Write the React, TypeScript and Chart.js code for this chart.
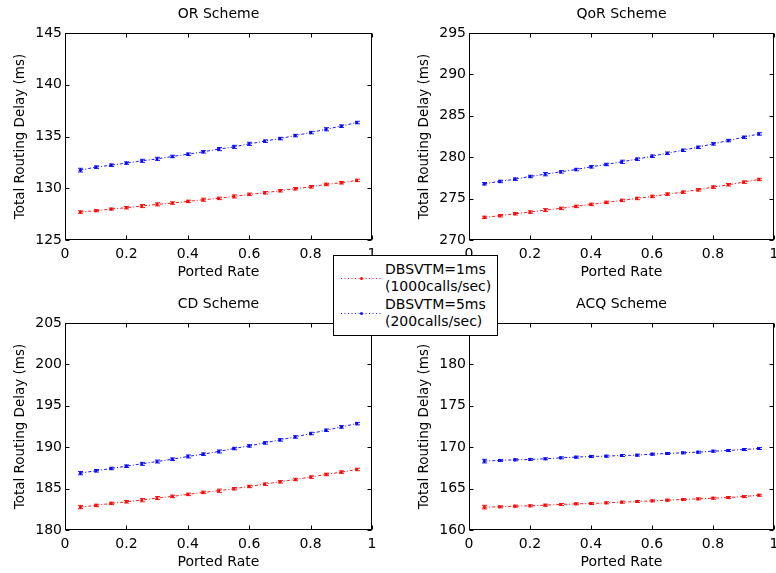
import React, { useEffect, useRef } from "react";
import { Chart, registerables } from "chart.js";

Chart.register(...registerables);

// ---------- data ----------
const portedRate = [0.05, 0.1, 0.15, 0.2, 0.25, 0.3, 0.35, 0.4, 0.45, 0.5, 0.55, 0.6, 0.65, 0.7, 0.75, 0.8, 0.85, 0.9, 0.95];
const xTicks = [0, 0.2, 0.4, 0.6, 0.8, 1];

const legendLabels = [["DBSVTM=1ms", "(1000calls/sec)"], ["DBSVTM=5ms", "(200calls/sec)"]];

const orDbs1 = [127.7, 127.83, 127.99, 128.12, 128.28, 128.44, 128.57, 128.73, 128.89, 129.02, 129.21, 129.41, 129.56, 129.76, 129.95, 130.14, 130.37, 130.53, 130.76];
const orDbs5 = [131.75, 132.04, 132.23, 132.43, 132.65, 132.84, 133.07, 133.29, 133.52, 133.78, 134.0, 134.29, 134.55, 134.8, 135.09, 135.38, 135.7, 136.0, 136.35];
const orErr1 = [0.12, 0.1, 0.1, 0.12, 0.15, 0.15, 0.12, 0.12, 0.15, 0.12, 0.15, 0.12, 0.12, 0.12, 0.12, 0.12, 0.12, 0.12, 0.12];
const orErr5 = [0.18, 0.12, 0.12, 0.12, 0.15, 0.15, 0.12, 0.12, 0.12, 0.15, 0.15, 0.15, 0.12, 0.12, 0.12, 0.12, 0.15, 0.12, 0.12];

const qorDbs1 = [272.73, 272.93, 273.17, 273.37, 273.61, 273.82, 274.06, 274.3, 274.54, 274.78, 275.02, 275.26, 275.54, 275.78, 276.06, 276.39, 276.67, 276.99, 277.31];
const qorDbs5 = [276.79, 277.07, 277.35, 277.67, 277.95, 278.23, 278.51, 278.84, 279.12, 279.44, 279.76, 280.12, 280.48, 280.84, 281.2, 281.61, 282.01, 282.41, 282.81];
const qorErr1 = [0.15, 0.15, 0.15, 0.15, 0.18, 0.15, 0.15, 0.15, 0.15, 0.15, 0.15, 0.15, 0.15, 0.15, 0.15, 0.15, 0.15, 0.15, 0.15];
const qorErr5 = [0.15, 0.15, 0.15, 0.15, 0.2, 0.15, 0.15, 0.15, 0.15, 0.2, 0.15, 0.15, 0.15, 0.15, 0.15, 0.15, 0.15, 0.15, 0.15];

const cdDbs1 = [182.77, 182.97, 183.21, 183.41, 183.61, 183.86, 184.06, 184.3, 184.54, 184.74, 184.98, 185.26, 185.54, 185.82, 186.1, 186.39, 186.71, 186.99, 187.31];
const cdDbs5 = [186.87, 187.15, 187.43, 187.71, 187.99, 188.27, 188.55, 188.88, 189.16, 189.48, 189.84, 190.16, 190.52, 190.88, 191.24, 191.65, 192.05, 192.45, 192.85];
const cdErr1 = [0.2, 0.15, 0.15, 0.15, 0.2, 0.18, 0.15, 0.15, 0.15, 0.2, 0.15, 0.15, 0.15, 0.15, 0.15, 0.15, 0.15, 0.15, 0.15];
const cdErr5 = [0.2, 0.15, 0.15, 0.15, 0.18, 0.18, 0.15, 0.18, 0.15, 0.18, 0.15, 0.15, 0.15, 0.15, 0.15, 0.15, 0.15, 0.15, 0.15];

const acqDbs1 = [162.76, 162.8, 162.88, 162.92, 163.0, 163.08, 163.16, 163.2, 163.28, 163.36, 163.44, 163.52, 163.6, 163.68, 163.76, 163.84, 163.92, 164.04, 164.2];
const acqDbs5 = [168.32, 168.4, 168.48, 168.52, 168.6, 168.72, 168.8, 168.88, 168.92, 169.0, 169.04, 169.16, 169.24, 169.32, 169.4, 169.52, 169.6, 169.72, 169.84];
const acqErr1 = [0.22, 0.12, 0.12, 0.12, 0.12, 0.12, 0.12, 0.12, 0.12, 0.12, 0.12, 0.12, 0.12, 0.12, 0.12, 0.12, 0.12, 0.12, 0.12];
const acqErr5 = [0.22, 0.12, 0.12, 0.12, 0.12, 0.12, 0.12, 0.12, 0.12, 0.12, 0.12, 0.12, 0.12, 0.12, 0.12, 0.12, 0.12, 0.12, 0.12];

// ---------- panels ----------
type Geo = { left: number; top: number; width: number; height: number; yAxisW: number; padRight: number; padTop: number; xAxisH: number; yLabelX: number };
type Panel = { title: string; yMin: number; yMax: number; s1: number[]; s5: number[]; e1: number[]; e5: number[]; geo: Geo };

const FONT = "'DejaVu Sans', sans-serif";
const RED = "rgba(255,0,0,0.9)";
const BLUE = "rgba(0,0,255,0.9)";

const panels: Panel[] = [
  { title: "OR Scheme", yMin: 125, yMax: 145, s1: orDbs1, s5: orDbs5, e1: orErr1, e5: orErr5,
    geo: { left: 0, top: 0, width: 388, height: 286, yAxisW: 65, padRight: 16, padTop: 33, xAxisH: 46, yLabelX: 20 } },
  { title: "QoR Scheme", yMin: 270, yMax: 295, s1: qorDbs1, s5: qorDbs5, e1: qorErr1, e5: qorErr5,
    geo: { left: 388, top: 0, width: 400, height: 286, yAxisW: 81, padRight: 14, padTop: 33, xAxisH: 46, yLabelX: 36 } },
  { title: "CD Scheme", yMin: 180, yMax: 205, s1: cdDbs1, s5: cdDbs5, e1: cdErr1, e5: cdErr5,
    geo: { left: 0, top: 286, width: 388, height: 287, yAxisW: 65, padRight: 16, padTop: 37, xAxisH: 43, yLabelX: 20 } },
  { title: "ACQ Scheme", yMin: 160, yMax: 185, s1: acqDbs1, s5: acqDbs5, e1: acqErr1, e5: acqErr5,
    geo: { left: 388, top: 286, width: 400, height: 287, yAxisW: 81, padRight: 14, padTop: 37, xAxisH: 43, yLabelX: 36 } },
];

const framePlugin = {
  id: "matlabFrame",
  afterDatasetsDraw(chart: any) {
    const ctx = chart.ctx;
    const xs = chart.scales.x;
    const ys = chart.scales.y;
    chart.data.datasets.forEach((ds: any) => {
      const errs: number[] = ds.errorBars || [];
      ctx.save();
      ctx.strokeStyle = ds.borderColor;
      ctx.lineWidth = 1;
      ds.data.forEach((p: any, i: number) => {
        const e = errs[i] || 0;
        const px = Math.round(xs.getPixelForValue(p.x)) + 0.5;
        const y1 = ys.getPixelForValue(p.y - e);
        const y2 = ys.getPixelForValue(p.y + e);
        ctx.beginPath();
        ctx.moveTo(px, y1);
        ctx.lineTo(px, y2);
        ctx.moveTo(px - 2.5, y1);
        ctx.lineTo(px + 2.5, y1);
        ctx.moveTo(px - 2.5, y2);
        ctx.lineTo(px + 2.5, y2);
        ctx.stroke();
      });
      ctx.restore();
    });
  },
  afterDraw(chart: any, _args: any, opts: any) {
    const ctx = chart.ctx;
    const a = chart.chartArea;
    const xs = chart.scales.x;
    const ys = chart.scales.y;
    const L = Math.round(a.left) + 0.5;
    const R = Math.round(a.right) - 0.5;
    const T = Math.round(a.top) + 0.5;
    const B = Math.round(a.bottom) - 0.5;
    ctx.save();
    ctx.strokeStyle = "#000";
    ctx.lineWidth = 1;
    ctx.strokeRect(L, T, R - L, B - T);
    const tl = 4;
    ctx.beginPath();
    xs.ticks.forEach((t: any) => {
      const px = Math.round(xs.getPixelForValue(t.value)) + 0.5;
      ctx.moveTo(px, B);
      ctx.lineTo(px, B - tl);
      ctx.moveTo(px, T);
      ctx.lineTo(px, T + tl);
    });
    ys.ticks.forEach((t: any) => {
      const py = Math.round(ys.getPixelForValue(t.value)) + 0.5;
      ctx.moveTo(L, py);
      ctx.lineTo(L + tl, py);
      ctx.moveTo(R, py);
      ctx.lineTo(R - tl, py);
    });
    ctx.stroke();

    ctx.fillStyle = "#000";
    ctx.textAlign = "center";
    ctx.textBaseline = "middle";
    ctx.font = `14px ${FONT}`;
    ctx.fillText(opts.title, (a.left + a.right) / 2, a.top - 19);
    ctx.fillText(opts.xLabel, (a.left + a.right) / 2, a.bottom + 32.5);
    ctx.translate(opts.yLabelX, (a.top + a.bottom) / 2);
    ctx.rotate(-Math.PI / 2);
    ctx.font = `13.5px ${FONT}`;
    ctx.fillText(opts.yLabel, 0, 0);
    ctx.restore();
  },
};

function SubPlot({ panel }: { panel: Panel }) {
  const ref = useRef<HTMLCanvasElement | null>(null);
  useEffect(() => {
    if (!ref.current) return;
    const g = panel.geo;
    const chart = new Chart(ref.current, {
      type: "line",
      data: {
        datasets: [
          {
            label: legendLabels[0].join(" "),
            data: portedRate.map((x, i) => ({ x, y: panel.s1[i] })),
            errorBars: panel.e1,
            borderColor: RED,
            backgroundColor: RED,
            borderWidth: 1,
            borderDash: [3, 2, 1, 2],
            pointRadius: 1.6,
            pointBorderWidth: 0,
            pointBackgroundColor: RED,
            fill: false,
            tension: 0,
          } as any,
          {
            label: legendLabels[1].join(" "),
            data: portedRate.map((x, i) => ({ x, y: panel.s5[i] })),
            errorBars: panel.e5,
            borderColor: BLUE,
            backgroundColor: BLUE,
            borderWidth: 1,
            borderDash: [3, 2, 1, 2],
            pointRadius: 1.6,
            pointBorderWidth: 0,
            pointBackgroundColor: BLUE,
            fill: false,
            tension: 0,
          } as any,
        ],
      },
      options: {
        responsive: false,
        animation: false,
        devicePixelRatio: 1,
        layout: { padding: { left: 0, right: g.padRight, top: g.padTop, bottom: 0 } },
        plugins: {
          legend: { display: false },
          tooltip: { enabled: false },
          matlabFrame: { title: panel.title, xLabel: "Ported Rate", yLabel: "Total Routing Delay (ms)", yLabelX: g.yLabelX },
        } as any,
        scales: {
          x: {
            type: "linear",
            min: 0,
            max: 1,
            afterBuildTicks: (s: any) => { s.ticks = xTicks.map((v) => ({ value: v })); },
            afterFit: (s: any) => { s.height = g.xAxisH; },
            grid: { display: false, drawTicks: false },
            border: { display: false },
            ticks: {
              color: "#000",
              padding: 6,
              maxRotation: 0,
              autoSkip: false,
              font: { family: FONT, size: 14 },
              callback: (v: any) => String(Math.round(Number(v) * 10) / 10),
            },
          },
          y: {
            type: "linear",
            min: panel.yMin,
            max: panel.yMax,
            afterFit: (s: any) => { s.width = g.yAxisW; },
            grid: { display: false, drawTicks: false },
            border: { display: false },
            ticks: {
              color: "#000",
              padding: 3,
              stepSize: 5,
              font: { family: FONT, size: 14 },
              callback: (v: any) => String(v),
            },
          },
        },
      },
      plugins: [framePlugin as any],
    });
    return () => chart.destroy();
  }, [panel]);
  const g = panel.geo;
  return (
    <canvas
      ref={ref}
      width={g.width}
      height={g.height}
      style={{ position: "absolute", left: g.left, top: g.top, width: g.width, height: g.height }}
    />
  );
}

function Swatch({ color }: { color: string }) {
  return (
    <svg width={52} height={35} style={{ position: "absolute", left: 0, top: 0 }}>
      <line x1={7} y1={17.5} x2={47} y2={17.5} stroke={color} strokeWidth={1} strokeDasharray="1 2.5" />
      <circle cx={27.5} cy={17.5} r={1.6} fill={color} />
    </svg>
  );
}

export default function App() {
  const colors = [RED, BLUE];
  return (
    <div style={{ position: "fixed", left: 0, top: 0, width: 776, height: 573, overflow: "hidden", background: "#fff" }}>
      {panels.map((p) => (
        <SubPlot key={p.title} panel={p} />
      ))}
      <div
        style={{
          position: "absolute",
          left: 333,
          top: 255,
          width: 165,
          height: 81,
          boxSizing: "border-box",
          border: "1px solid #000",
          background: "#fff",
          fontFamily: FONT,
          fontSize: 14,
          lineHeight: "17.5px",
          color: "#000",
          paddingTop: 4.75,
        }}
      >
        {legendLabels.map((lines, i) => (
          <div key={i} style={{ position: "relative", height: 35 }}>
            <Swatch color={colors[i]} />
            <div style={{ position: "absolute", left: 51, top: 0, whiteSpace: "nowrap" }}>
              {lines.map((t) => (
                <div key={t}>{t}</div>
              ))}
            </div>
          </div>
        ))}
      </div>
    </div>
  );
}
